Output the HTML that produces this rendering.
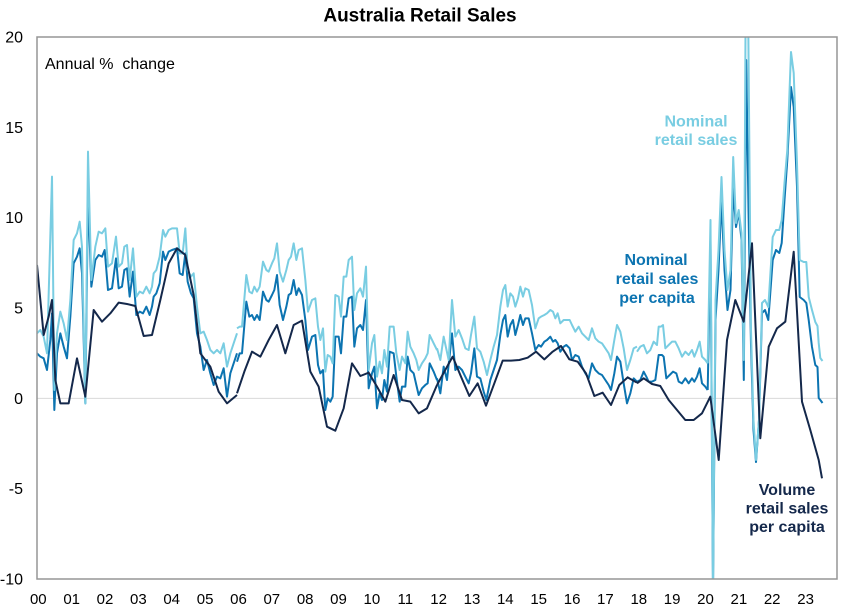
<!DOCTYPE html>
<html><head><meta charset="utf-8"><style>
html,body{margin:0;padding:0;background:#fff;}
svg{display:block;font-family:"Liberation Sans",Arial,sans-serif;}
</style></head><body>
<svg width="841" height="611" viewBox="0 0 841 611" xmlns="http://www.w3.org/2000/svg">
<defs><clipPath id="pc"><rect x="37" y="37" width="800" height="542"/></clipPath></defs>
<rect width="841" height="611" fill="#fff"/>
<text x="420" y="21.5" text-anchor="middle" font-size="19" font-weight="bold" fill="#000">Australia Retail Sales</text>
<line x1="37" y1="398.4" x2="837" y2="398.4" stroke="#d9d9d9" stroke-width="1"/>
<g clip-path="url(#pc)" fill="none" stroke-linejoin="round" stroke-width="2">
<!-- Mid blue: nominal per capita -->
<g stroke="#0c74b1">
<polyline vector-effect="non-scaling-stroke" transform="translate(37,140) scale(0.33333)" points="0,640 10,650 20,655 30,690 40,600 45,520 52,810 60,640 70,580 80,620 90,655 100,530 110,370 120,350 128,325 135,400 145,790 153,160 163,440 175,360 185,345 195,350 203,330 213,450 225,445 237,355 245,445 255,440 262,390 270,385 278,470 288,395 298,525 308,515 318,520 328,500 338,525 345,500 350,470 358,460 368,430 378,335 385,360 395,335 405,330 420,325 428,400 437,405 445,340 452,425 462,460 470,475 480,580 490,620 500,690 510,660 520,700 530,735 540,710 550,715 560,685 570,770 580,700 590,670 600,640"/>
<polyline vector-effect="non-scaling-stroke" transform="translate(237,180) scale(0.33333)" points="0,545 8,520 15,520 28,365 37,410 45,405 52,420 60,405 68,420 78,335 88,360 95,365 105,345 112,330 120,285 128,375 138,420 148,380 155,345 162,340 170,300 178,345 185,325 195,345 205,420 213,510 225,470 235,465 243,555 250,580 258,570 265,690 272,655 280,665 287,650 295,470 305,470 312,520 320,410 328,410 335,355 345,350 352,500 360,445 370,435 378,450 387,360 395,625 405,580 412,560 420,685 428,640 435,660 442,600 450,635 458,515 470,520 478,590 488,665 495,620 505,620 512,530 520,570 530,580 538,615 545,645 555,625 565,615 572,610 578,550 590,575 600,600"/>
<polyline vector-effect="non-scaling-stroke" transform="translate(437,260) scale(0.33333)" points="0,355 10,400 20,320 30,360 45,220 55,330 65,320 75,330 85,350 95,370 102,340 112,265 120,350 130,355 140,395 148,420 160,360 170,330 180,300 190,225 198,180 205,165 212,230 220,195 228,180 235,225 243,195 250,165 258,195 265,175 275,175 285,220 295,270 305,255 312,260 322,245 330,240 340,230 348,245 355,240 362,250 370,275 380,260 388,255 398,265 405,300 415,285 425,290 435,320 445,340 455,355 465,310 475,330 485,340 495,345 505,360 515,375 522,390 532,340 540,290 550,305 560,370 570,430 580,400 590,355 600,365"/>
<polyline vector-effect="non-scaling-stroke" transform="translate(637,260) scale(0.33333)" points="0,365 10,360 20,335 28,350 35,365 45,365 55,360 65,285 75,285 80,290 88,355 98,345 108,335 118,340 125,365 135,370 145,355 155,370 165,355 172,365 180,350 188,325 195,370 205,380 212,390"/>
<polyline points="707.7,390 710.5,240 713,590 715.5,320 718.5,270 721.5,200 724.5,270 727.5,310 730.5,290 733.2,188 736,227 738.7,212 741.5,240 743.8,380 746.2,60 748.5,210 751,345 753.5,430 756,462 759,420 762,313 765,310 768.3,320 772.7,260 776,250 779.3,253 781.7,243 784.5,200 787.3,160 791,87 793.7,107 797,187 799.7,297 803.7,300 806.3,303 808.7,320 812,347 815.3,365 817.5,367 818.7,398 820.3,400 822.5,403"/>
</g>
<!-- Light blue: nominal -->
<g stroke="#79cde2">
<polyline vector-effect="non-scaling-stroke" transform="translate(37,140) scale(0.33333)" points="0,580 10,570 20,590 30,640 45,110 52,750 60,580 70,515 80,550 90,600 100,480 110,300 120,280 128,245 135,320 145,790 153,35 163,420 175,320 185,275 195,280 205,265 213,380 225,370 237,290 245,380 255,370 262,320 270,315 278,420 288,325 298,470 308,455 318,460 328,440 338,460 345,440 350,400 358,390 368,350 378,270 385,290 395,270 405,265 420,265 428,340 437,340 445,265 452,390 462,410 470,400 480,500 490,580 500,575 510,600 520,630 530,640 540,630 550,640 560,610 570,680 580,640 590,610 600,580"/>
<polyline vector-effect="non-scaling-stroke" transform="translate(237,180) scale(0.33333)" points="0,445 8,440 15,440 28,285 37,335 45,340 52,320 60,335 68,320 78,245 88,270 95,275 105,250 112,235 120,190 128,275 138,305 148,270 155,240 162,230 170,190 178,240 185,210 195,205 205,300 213,395 225,360 235,355 243,440 250,480 258,445 265,575 272,525 280,530 287,550 295,345 305,350 312,410 320,290 328,290 335,240 345,230 352,390 360,340 370,325 378,350 387,260 395,570 405,490 412,465 420,590 428,545 435,580 442,510 450,560 458,440 470,440 478,520 488,570 495,530 505,550 512,455 520,500 530,520 538,540 545,570 555,550 565,535 572,520 578,465 590,490 600,510"/>
<polyline vector-effect="non-scaling-stroke" transform="translate(437,260) scale(0.33333)" points="0,265 10,300 20,230 35,300 45,120 55,230 65,210 75,235 85,265 95,270 102,225 112,170 120,265 130,275 140,305 150,345 160,300 170,260 180,225 190,140 198,90 205,75 212,140 220,100 228,110 235,140 243,115 250,80 258,110 265,85 275,90 285,135 295,205 305,175 312,170 322,165 330,160 340,150 348,155 355,175 362,160 370,190 380,180 388,180 398,180 405,195 415,215 425,200 435,220 445,230 455,240 465,205 475,235 485,245 495,250 505,265 515,280 522,300 532,240 540,195 550,215 560,265 570,330 580,300 590,265 600,260"/>
<polyline vector-effect="non-scaling-stroke" transform="translate(637,260) scale(0.33333)" points="0,275 10,260 20,255 30,280 40,270 50,245 60,255 65,200 72,200 78,195 85,265 95,255 105,245 115,245 125,265 135,290 145,275 155,285 165,270 172,290 180,270 188,245 195,290 205,300 212,310"/>
<polyline points="707.7,363.3 710.5,220 713,590 715.5,300 718.5,250 721.5,177 724.5,250 727.5,290 730.5,270 733.2,157 736,223 738.7,210 741.5,233 743.8,360 745.5,30 748.3,30 751,330 753.5,420 756,460 759,420 762,303 765,300 768.3,307 772.7,237 776,230 779.3,230 781.7,220 784.5,183 787.3,150 791,52 793.7,73 797,163 799.7,260 803.7,262 806.3,262 808.7,297 812,310 815.3,322 817.5,326 818.7,343 820.3,358 822.5,361"/>
</g>
<!-- Navy: volume per capita -->
<g stroke="#14284b">
<polyline vector-effect="non-scaling-stroke" transform="translate(37,140) scale(0.33333)" points="0,375 20,585 35,530 45,480 55,720 70,790 95,790 120,655 145,770 170,510 195,545 220,520 245,488 270,492 295,498 320,588 345,585 370,480 395,370 420,325 445,345 470,465 490,640 520,680 545,755 570,790 600,765"/>
<polyline vector-effect="non-scaling-stroke" transform="translate(237,180) scale(0.33333)" points="0,640 22,575 45,515 70,530 95,480 120,435 145,520 170,435 195,422 220,575 245,620 270,740 295,752 320,685 345,550 370,588 395,578 420,620 445,665 470,585 495,660 520,665 545,700 570,685 600,615"/>
<polyline vector-effect="non-scaling-stroke" transform="translate(437,260) scale(0.33333)" points="0,375 22,335 47,290 72,350 97,408 122,370 147,437 172,370 197,302 222,302 247,300 272,293 297,275 322,298 347,275 372,258 397,298 422,305 447,340 472,408 497,398 522,435 547,375 572,352 600,368"/>
<polyline points="637,383.3 643.7,378.3 652,384 660.3,386 668.7,400 677,410 685.3,420 693.7,420 702,413.3 710.3,396.7 718.7,460 727,340 735.3,300 743.7,321.7 752,243.3 760.3,438.3 768.7,346.7 777,328.3 785.3,321.7 793.7,251.7 802,401.7 810.3,430 818.7,460 822,478.3"/>
</g>
</g>
<rect x="37" y="37" width="800" height="542" fill="none" stroke="#959595" stroke-width="1.5"/>
<!-- Y axis labels -->
<g font-size="16" fill="#000" text-anchor="end">
<text x="23" y="42.5">20</text>
<text x="23" y="132.8">15</text>
<text x="23" y="223.1">10</text>
<text x="23" y="313.5">5</text>
<text x="23" y="403.8">0</text>
<text x="23" y="494.2">-5</text>
<text x="23" y="584.5">-10</text>
</g>
<!-- X axis labels -->
<g font-size="15" fill="#000" text-anchor="middle">
<text x="38.3" y="604">00</text><text x="71.7" y="604">01</text><text x="105" y="604">02</text><text x="138.4" y="604">03</text><text x="171.7" y="604">04</text><text x="205.1" y="604">05</text><text x="238.5" y="604">06</text><text x="271.8" y="604">07</text><text x="305.2" y="604">08</text><text x="338.5" y="604">09</text><text x="371.9" y="604">10</text><text x="405.3" y="604">11</text><text x="438.6" y="604">12</text><text x="472" y="604">13</text><text x="505.3" y="604">14</text><text x="538.7" y="604">15</text><text x="572.1" y="604">16</text><text x="605.4" y="604">17</text><text x="638.8" y="604">18</text><text x="672.1" y="604">19</text><text x="705.5" y="604">20</text><text x="738.9" y="604">21</text><text x="772.2" y="604">22</text><text x="805.6" y="604">23</text>
</g>
<text x="45" y="69" font-size="16" fill="#000" xml:space="preserve">Annual %  change</text>
<g font-size="16" font-weight="bold" text-anchor="middle">
<text x="696" y="126.7" fill="#79cde2">Nominal</text>
<text x="696" y="145" fill="#79cde2">retail sales</text>
<text x="656" y="265" fill="#0c74b1">Nominal</text>
<text x="657" y="284" fill="#0c74b1">retail sales</text>
<text x="657" y="303" fill="#0c74b1">per capita</text>
<text x="787" y="495" fill="#14284b">Volume</text>
<text x="787" y="513.5" fill="#14284b">retail sales</text>
<text x="787" y="532" fill="#14284b">per capita</text>
</g>
</svg>
</body></html>
